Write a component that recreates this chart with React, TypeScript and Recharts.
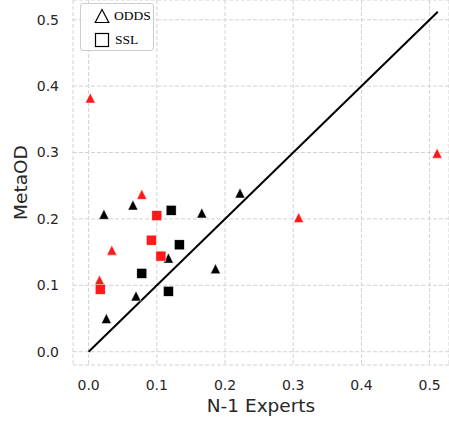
import { ScatterChart, Scatter, XAxis, YAxis, CartesianGrid, ReferenceLine } from 'recharts';

// N-1 Experts (x) vs MetaOD (y)
const oddsBlackX = [0.0225, 0.065, 0.166, 0.222, 0.117, 0.186, 0.0695, 0.026];
const oddsBlackY = [0.207, 0.221, 0.209, 0.239, 0.141, 0.125, 0.084, 0.05];
const oddsRedX = [0.0025, 0.078, 0.034, 0.016, 0.308, 0.511];
const oddsRedY = [0.382, 0.237, 0.153, 0.108, 0.202, 0.299];
const sslBlackX = [0.121, 0.133, 0.078, 0.117];
const sslBlackY = [0.213, 0.161, 0.118, 0.091];
const sslRedX = [0.1, 0.092, 0.106, 0.017];
const sslRedY = [0.205, 0.168, 0.144, 0.094];

const ticks = [0, 0.1, 0.2, 0.3, 0.4, 0.5];
const diagEnd = 0.512;

const toPoints = (xs: number[], ys: number[]) => xs.map((x, i) => ({ x, y: ys[i] }));

const tickStyle = { fontFamily: 'DejaVu Sans', fontSize: 14, fill: '#262626' };

const makeTriangle = (color: string, opacity: number) => (props: any) => {
  const { cx, cy } = props;
  const h = 5;
  return (
    <path
      d={`M${cx},${cy - h}L${cx + h},${cy + h}L${cx - h},${cy + h}Z`}
      fill={color}
      fillOpacity={opacity}
      stroke="#fff"
      strokeWidth={0.5}
    />
  );
};

const makeSquare = (color: string, opacity: number) => (props: any) => {
  const { cx, cy } = props;
  return (
    <rect x={cx - 5} y={cy - 5} width={10} height={10} fill={color} fillOpacity={opacity} stroke="#fff" strokeWidth={0.5} />
  );
};

// legend drawn as an overlay so it doesn't eat chart space
const LegendBox = () => (
  <div
    style={{
      position: 'absolute',
      left: 80,
      top: 3,
      width: 74,
      height: 48,
      border: '1px solid #cccccc',
      borderRadius: 3,
      background: 'rgba(255,255,255,0.8)',
      fontFamily: 'Liberation Serif',
      fontSize: 13.5,
      color: '#000',
      boxSizing: 'border-box',
    }}
  >
    <div style={{ position: 'absolute', left: 13, top: 4, display: 'flex', alignItems: 'center' }}>
      <svg width={16} height={16}>
        <path d="M8,1.5L14.8,14.5L1.2,14.5Z" fill="none" stroke="#000" strokeWidth={1.2} />
      </svg>
      <span style={{ marginLeft: 4 }}>ODDS</span>
    </div>
    <div style={{ position: 'absolute', left: 13, top: 28, display: 'flex', alignItems: 'center' }}>
      <svg width={16} height={16}>
        <rect x={1.5} y={1.5} width={13} height={13} fill="none" stroke="#000" strokeWidth={1.2} />
      </svg>
      <span style={{ marginLeft: 5 }}>SSL</span>
    </div>
  </div>
);

export default function App() {
  return (
    <div style={{ position: 'absolute', left: 0, top: 0, width: 449, height: 423, background: '#fff' }}>
      <ScatterChart width={449} height={423} margin={{ top: 0, right: 0, left: 0, bottom: 0 }}>
        <CartesianGrid stroke="#d3d3d3" strokeDasharray="4 2" strokeWidth={1} />
        <XAxis
          type="number"
          dataKey="x"
          domain={[-0.0229, 0.5284]}
          ticks={ticks}
          tickFormatter={(v: number) => v.toFixed(1)}
          axisLine={false}
          tickLine={false}
          tickSize={6}
          tickMargin={9}
          height={58}
          tick={tickStyle}
          label={{
            content: (p: any) => {
              const vb = p.viewBox;
              return (
                <text x={vb.x + vb.width / 2} y={412} textAnchor="middle" fontFamily="DejaVu Sans" fontSize={18.5} fill="#262626">
                  N-1 Experts
                </text>
              );
            },
          }}
        />
        <YAxis
          type="number"
          dataKey="y"
          domain={[-0.02, 0.5297]}
          ticks={ticks}
          tickFormatter={(v: number) => v.toFixed(1)}
          axisLine={false}
          tickLine={false}
          tickSize={6}
          tickMargin={8}
          width={73}
          tick={tickStyle}
          label={{
            content: (p: any) => {
              const vb = p.viewBox;
              const cy = vb.y + vb.height / 2;
              return (
                <text
                  x={27}
                  y={cy}
                  transform={`rotate(-90, 27, ${cy})`}
                  textAnchor="middle"
                  fontFamily="DejaVu Sans"
                  fontSize={18.5}
                  fill="#262626"
                >
                  MetaOD
                </text>
              );
            },
          }}
        />
        <ReferenceLine
          segment={[
            { x: 0, y: 0 },
            { x: diagEnd, y: diagEnd },
          ]}
          stroke="#000"
          strokeWidth={2}
          ifOverflow="visible"
        />
        <Scatter data={toPoints(oddsBlackX, oddsBlackY)} shape={makeTriangle('#000', 1)} isAnimationActive={false} />
        <Scatter data={toPoints(sslBlackX, sslBlackY)} shape={makeSquare('#000', 1)} isAnimationActive={false} />
        <Scatter data={toPoints(oddsRedX, oddsRedY)} shape={makeTriangle('#ff0000', 0.9)} isAnimationActive={false} />
        <Scatter data={toPoints(sslRedX, sslRedY)} shape={makeSquare('#ff0000', 0.9)} isAnimationActive={false} />
      </ScatterChart>
      <LegendBox />
    </div>
  );
}
